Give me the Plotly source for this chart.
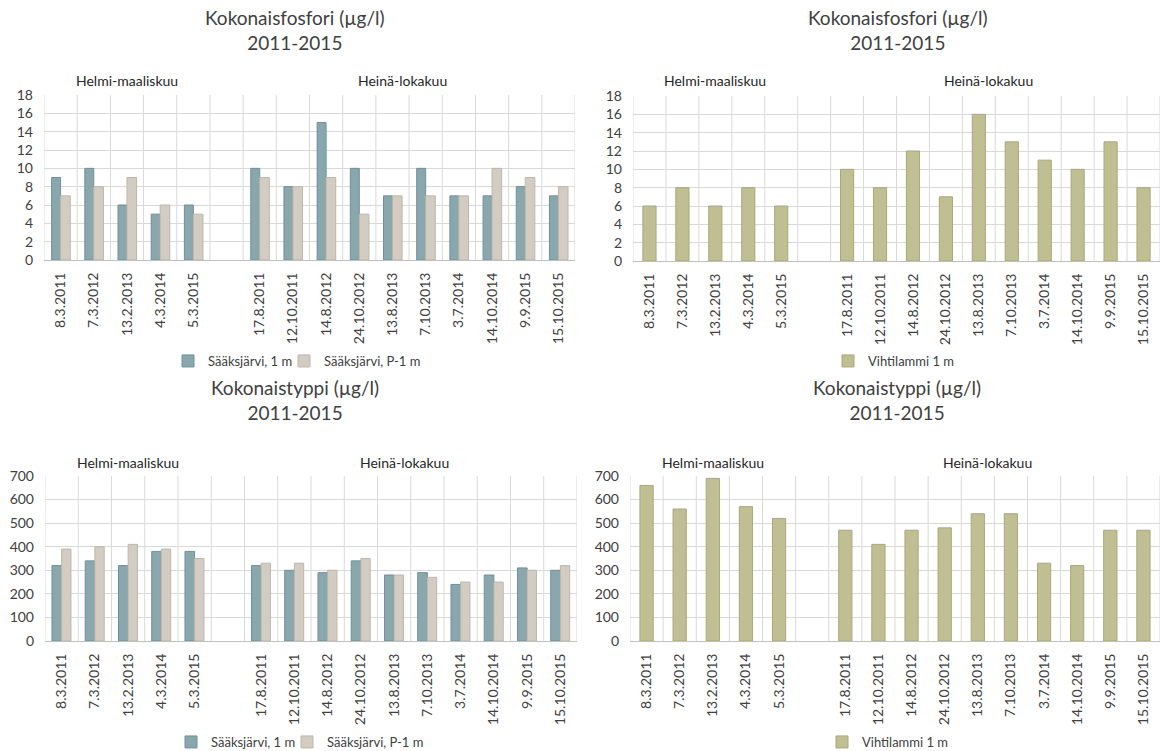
import plotly.graph_objects as go

# Sampling dates; the empty slot separates the winter and summer series
dates = ["8.3.2011", "7.3.2012", "13.2.2013", "4.3.2014", "5.3.2015", "",
         "17.8.2011", "12.10.2011", "14.8.2012", "24.10.2012", "13.8.2013",
         "7.10.2013", "3.7.2014", "14.10.2014", "9.9.2015", "15.10.2015"]

# Total phosphorus (µg/l)
p_saaks_1m = [9, 10, 6, 5, 6, None, 10, 8, 15, 10, 7, 10, 7, 7, 8, 7]
p_saaks_p1m = [7, 8, 9, 6, 5, None, 9, 8, 9, 5, 7, 7, 7, 10, 9, 8]
p_vihti_1m = [6, 8, 6, 8, 6, None, 10, 8, 12, 7, 16, 13, 11, 10, 13, 8]

# Total nitrogen (µg/l)
n_saaks_1m = [320, 340, 320, 380, 380, None, 320, 300, 290, 340, 280, 290, 240, 280, 310, 300]
n_saaks_p1m = [390, 400, 410, 390, 350, None, 330, 330, 300, 350, 280, 270, 250, 250, 300, 320]
n_vihti_1m = [660, 560, 690, 570, 520, None, 470, 410, 470, 480, 540, 540, 330, 320, 470, 470]

title_p = "Kokonaisfosfori (µg/l)<br>2011-2015"
title_n = "Kokonaistyppi (µg/l)<br>2011-2015"
season_winter = "Helmi-maaliskuu"
season_summer = "Heinä-lokakuu"
name_s1 = "Sääksjärvi, 1 m"
name_s2 = "Sääksjärvi, P-1 m"
name_v = "Vihtilammi 1 m"

W, H = 1160, 751
FONT = "Lato"
TXT = "#404040"
GRID = "#d9d9d9"

C_TEAL, C_TEAL_L = "#8aa7ae", "#6f909a"
C_SAND, C_SAND_L = "#d2ccc2", "#bdb6aa"
C_OLIVE, C_OLIVE_L = "#bfbf93", "#a8a878"

xs = list(range(len(dates)))


def dom_x(a, b):
    return [a / W, min(b / W, 1.0)]


def dom_y(top, bottom):
    return [1 - bottom / H, 1 - top / H]


# (axis suffix, x-domain px, y-domain px, y max, y step, title,
#  title centre (x, y) px, heading centre y px)
panels = [
    ("", (44, 575), (95, 260), 18, 2, title_p, (295, 30), 80),
    ("2", (633, 1161), (96, 261), 18, 2, title_p, (898, 30), 80),
    ("3", (45, 577), (476, 641), 700, 100, title_n, (295, 400), 462),
    ("4", (630, 1160), (476, 641), 700, 100, title_n, (897, 400), 462),
]

fig = go.Figure()

# one legend per series so the entries can sit close together;
# legend name -> (left edge px, centre y px)
legend_pos = {}


def add_bar(n, y, name, color, line, legend, offset, width, left, ymid):
    legend_pos[legend] = (left, ymid)
    fig.add_trace(go.Bar(
        x=xs, y=y, name=name, xaxis="x" + n, yaxis="y" + n,
        marker=dict(color=color, line=dict(color=line, width=1)),
        offset=offset, width=width, legend=legend, hoverinfo="x+y",
    ))


add_bar("", p_saaks_1m, name_s1, C_TEAL, C_TEAL_L, "legend", -0.27, 0.27, 168, 361)
add_bar("", p_saaks_p1m, name_s2, C_SAND, C_SAND_L, "legend2", 0.0, 0.29, 284, 361)
add_bar("2", p_vihti_1m, name_v, C_OLIVE, C_OLIVE_L, "legend3", -0.2, 0.4, 828, 361)
add_bar("3", n_saaks_1m, name_s1, C_TEAL, C_TEAL_L, "legend4", -0.29, 0.29, 171, 742)
add_bar("3", n_saaks_p1m, name_s2, C_SAND, C_SAND_L, "legend5", 0.0, 0.28, 287, 742)
add_bar("4", n_vihti_1m, name_v, C_OLIVE, C_OLIVE_L, "legend6", -0.2, 0.4, 822, 742)

layout = dict(
    width=W, height=H,
    margin=dict(l=0, r=0, t=0, b=0, autoexpand=False),
    paper_bgcolor="white", plot_bgcolor="white",
    barmode="overlay", showlegend=True,
    font=dict(family=FONT, color=TXT, size=14),
)

for leg, (left, ymid) in legend_pos.items():
    layout[leg] = dict(
        orientation="h", xref="paper", yref="paper",
        x=left / W, xanchor="left", y=1 - ymid / H, yanchor="middle",
        font=dict(family=FONT, size=13, color=TXT),
        bgcolor="rgba(0,0,0,0)",
    )

annotations = []
shapes = []
boundaries = [i - 0.5 for i in range(len(dates) + 1)]
for n, (x0, x1), (y0, y1), ymax, ystep, title, (t_x, t_y), h_c in panels:
    dx = dom_x(x0, x1)
    dy = dom_y(y0, y1)
    layout["xaxis" + n] = dict(
        domain=dx, anchor="y" + n, range=[-0.5, len(dates) - 0.5],
        tickmode="array", tickvals=xs, ticktext=dates, tickangle=-90,
        tickfont=dict(family=FONT, size=14, color=TXT),
        ticks="", showgrid=False, zeroline=False,
        showline=True, linecolor="#bfbfbf", linewidth=1,
        ticklabelstandoff=6, fixedrange=True, automargin=False,
    )
    layout["yaxis" + n] = dict(
        domain=dy, anchor="x" + n, range=[0, ymax], dtick=ystep, tick0=0,
        tickfont=dict(family=FONT, size=14, color=TXT),
        ticks="", showgrid=True, gridcolor=GRID, gridwidth=1,
        zeroline=False, showline=False, ticklabelstandoff=10,
        fixedrange=True, automargin=False,
    )
    # vertical gridlines on the category boundaries, spanning the value range
    for b in boundaries:
        shapes.append(dict(
            type="line", xref="x" + n, yref="y" + n,
            x0=b, x1=b, y0=0, y1=ymax, layer="below",
            line=dict(color=GRID, width=1),
        ))
    # chart title centred over the chart area
    annotations.append(dict(
        text=title, xref="paper", yref="paper",
        x=t_x / W, y=1 - t_y / H,
        xanchor="center", yanchor="middle", showarrow=False, align="center",
        font=dict(family=FONT, size=19, color=TXT),
    ))
    # season headings above each group of dates
    for label, xc in ((season_winter, 2.0), (season_summer, 10.3)):
        annotations.append(dict(
            text=label, xref="x" + n, yref="paper", x=xc,
            y=1 - h_c / H, xanchor="center", yanchor="middle",
            showarrow=False, font=dict(family=FONT, size=14, color="#262626"),
        ))

layout["annotations"] = annotations
layout["shapes"] = shapes
fig.update_layout(**layout)

fig.write_html("out.html")
